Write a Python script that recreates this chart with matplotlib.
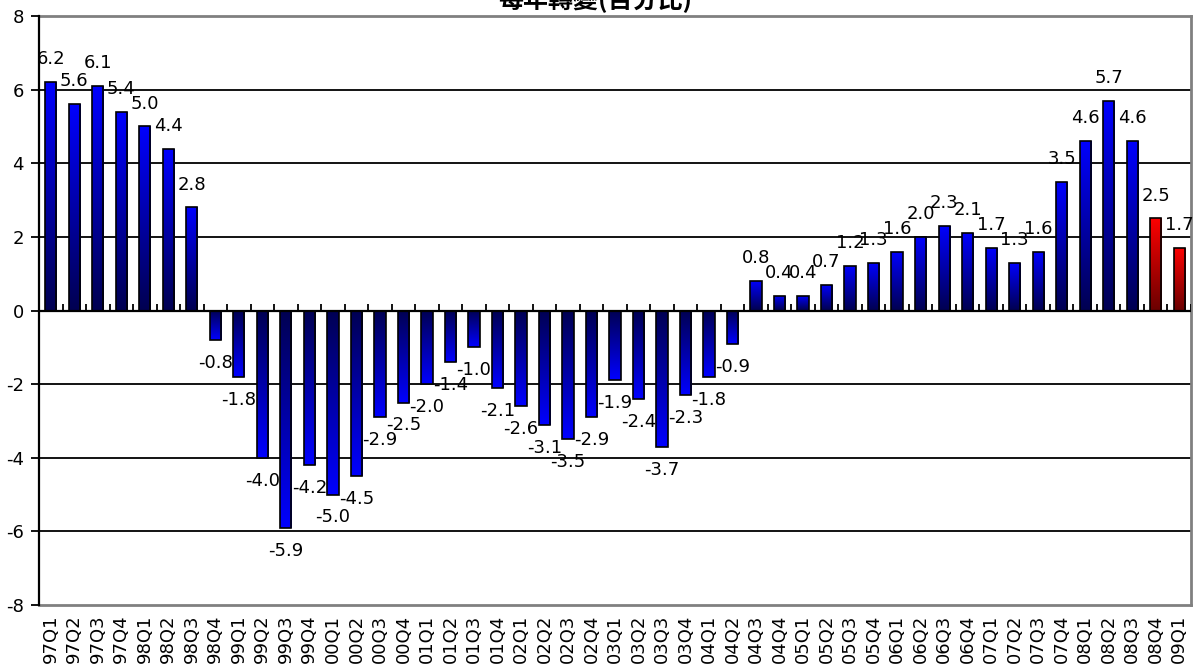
import numpy as np
import matplotlib
matplotlib.use("Agg")
import matplotlib.pyplot as plt
from matplotlib.colors import LinearSegmentedColormap

categories = [
    "97Q1", "97Q2", "97Q3", "97Q4", "98Q1", "98Q2", "98Q3", "98Q4",
    "99Q1", "99Q2", "99Q3", "99Q4", "00Q1", "00Q2", "00Q3", "00Q4",
    "01Q1", "01Q2", "01Q3", "01Q4", "02Q1", "02Q2", "02Q3", "02Q4",
    "03Q1", "03Q2", "03Q3", "03Q4", "04Q1", "04Q2", "04Q3", "04Q4",
    "05Q1", "05Q2", "05Q3", "05Q4", "06Q1", "06Q2", "06Q3", "06Q4",
    "07Q1", "07Q2", "07Q3", "07Q4", "08Q1", "08Q2", "08Q3", "08Q4",
    "09Q1",
]
values = [
    6.2, 5.6, 6.1, 5.4, 5.0, 4.4, 2.8, -0.8,
    -1.8, -4.0, -5.9, -4.2, -5.0, -4.5, -2.9, -2.5,
    -2.0, -1.4, -1.0, -2.1, -2.6, -3.1, -3.5, -2.9,
    -1.9, -2.4, -3.7, -2.3, -1.8, -0.9, 0.8, 0.4,
    0.4, 0.7, 1.2, 1.3, 1.6, 2.0, 2.3, 2.1,
    1.7, 1.3, 1.6, 3.5, 4.6, 5.7, 4.6, 2.5,
    1.7,
]
forecast = [False] * 47 + [True, True]
yticks = [-8, -6, -4, -2, 0, 2, 4, 6, 8]
title = "每年轉變(百分比)"

plt.rcParams['font.family'] = ['DejaVu Sans']
FS = 13

W, H = 1195, 671
fig = plt.figure(figsize=(W / 100, H / 100), dpi=100)
ax = fig.add_axes([39 / W, 1 - 605 / H, (1191 - 39) / W, (605 - 16) / H])

n = len(categories)
x = np.arange(n)
ax.set_xlim(-0.5, n - 0.5)
ax.set_ylim(-8, 8)

# gridlines
for yv in yticks[1:-1]:
    if yv != 0:
        ax.axhline(yv, color='black', lw=1.3, zorder=1)
ax.axhline(0, color='black', lw=1.6, zorder=4)

blue_cmap = LinearSegmentedColormap.from_list("b", [(0, 0, 0.32), (0, 0, 1.0)])
red_cmap = LinearSegmentedColormap.from_list("r", [(0.42, 0, 0), (1.0, 0, 0)])
grad = np.linspace(0, 1, 256).reshape(-1, 1)

width = 0.48
bars = ax.bar(x, values, width=width, facecolor='none', edgecolor='black',
              linewidth=1.2, zorder=3)
for b, v, fc in zip(bars, values, forecast):
    cmap = red_cmap if fc else blue_cmap
    x0 = b.get_x()
    x1 = x0 + b.get_width()
    img = grad if v >= 0 else grad[::-1]
    im = ax.imshow(img, cmap=cmap, aspect='auto', origin='lower',
                   extent=[x0, x1, min(0, v), max(0, v)], zorder=2,
                   interpolation='bilinear')
    im.set_clip_path(b)

ax.set_xlim(-0.5, n - 0.5)
ax.set_ylim(-8, 8)

# value labels
for xi, v in zip(x, values):
    off = 16.5 if v >= 0 else -16.5
    ax.annotate(f"{v:.1f}", (xi, v), xytext=(0, off), textcoords='offset points',
                ha='center', va='center', fontsize=FS, zorder=5)

# small category-boundary ticks on the zero line
bounds = np.arange(n) + 0.5
ax.vlines(bounds, 0, 0.19, color='black', lw=1.3, zorder=4)

# axes styling
ax.set_yticks(yticks)
ax.set_yticklabels([str(t) for t in yticks], fontsize=FS)
ax.tick_params(axis='y', direction='out', length=6, width=1.3, color='black', pad=5)
ax.set_xticks(x)
ax.set_xticklabels(categories, rotation=90, fontsize=FS)
ax.tick_params(axis='x', length=0, pad=7)
for s in ['top', 'right', 'bottom']:
    ax.spines[s].set_color('#808080')
    ax.spines[s].set_linewidth(2)
ax.spines['left'].set_color('black')
ax.spines['left'].set_linewidth(1.6)
ax.spines['left'].set_zorder(6)

fig.text(595 / W, 1 - 13 / H, title, ha='center', va='bottom', fontsize=18,
         fontweight='bold', family=['Noto Sans CJK TC', 'DejaVu Sans'])

fig.savefig("out.png", dpi=100)
